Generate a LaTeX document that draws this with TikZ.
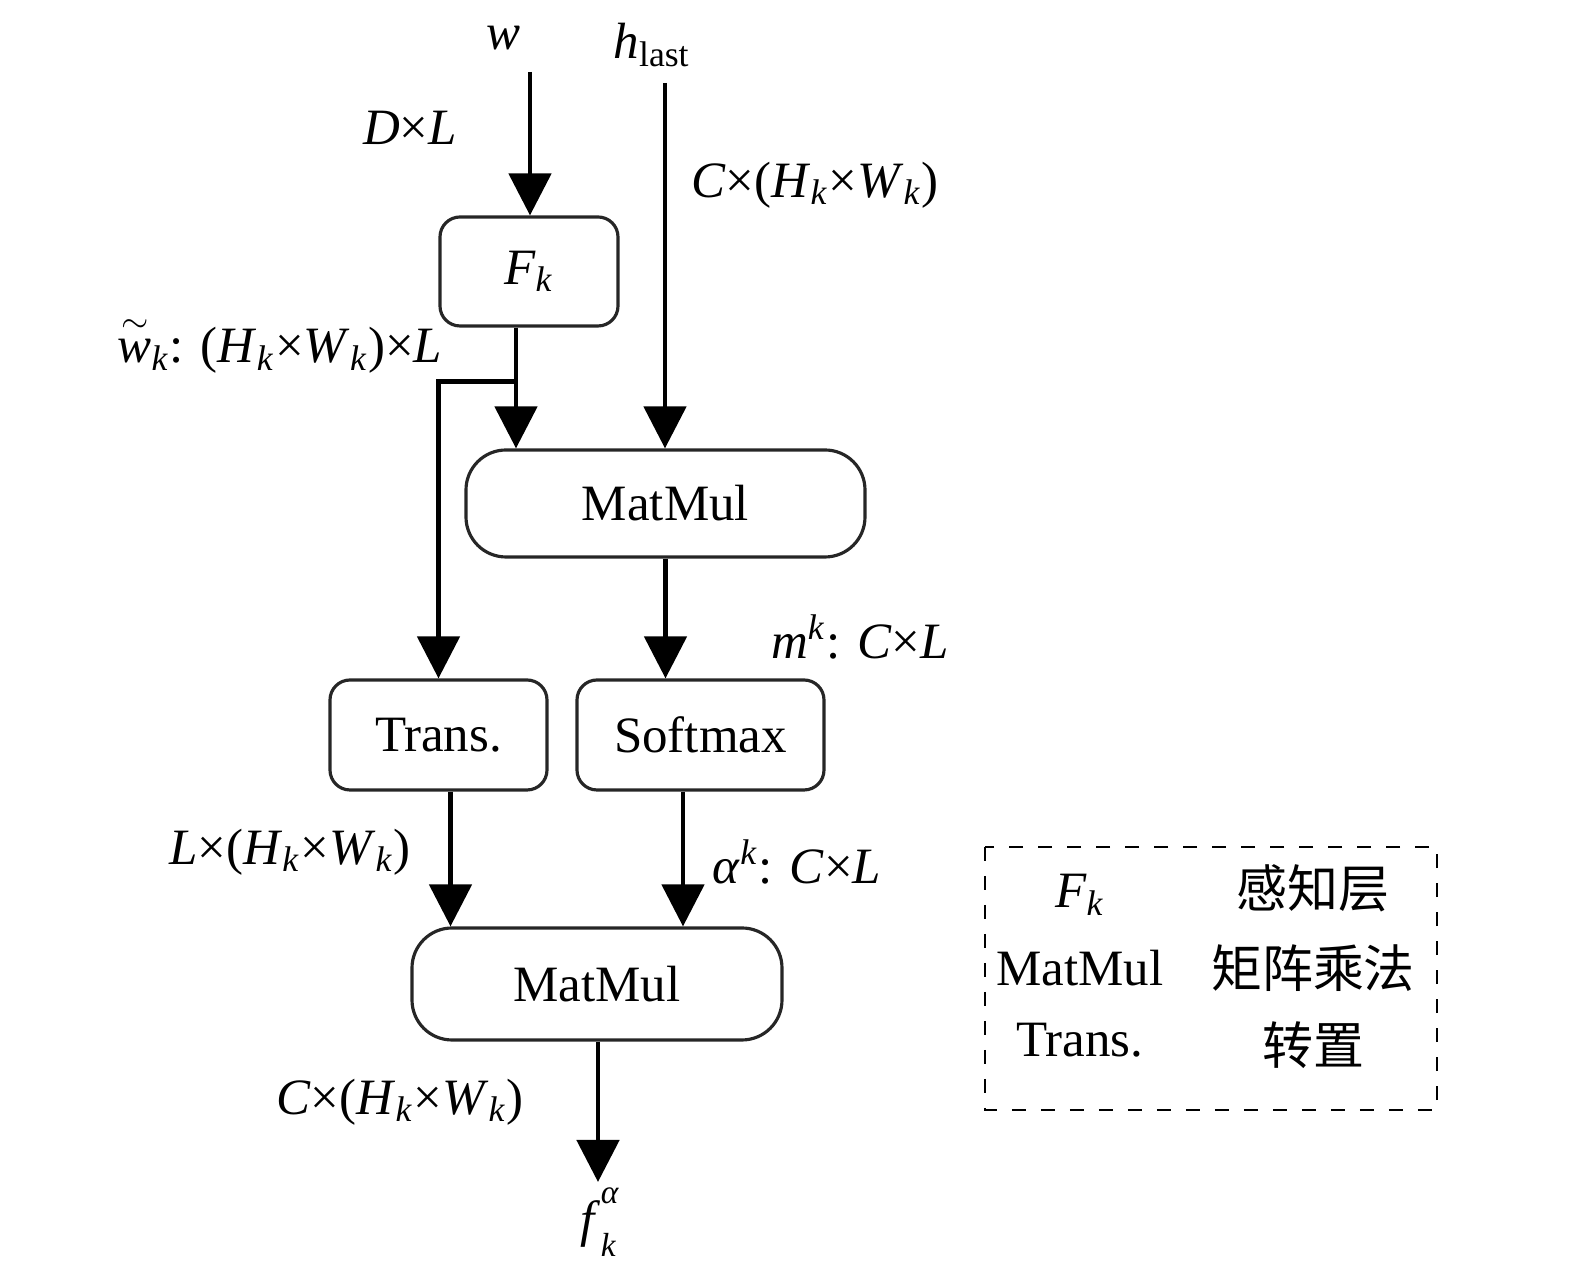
\documentclass[tikz,border=0pt]{standalone}
\usepackage{fontspec}
\setmainfont{Liberation Serif}
\newfontfamily\cjk{Noto Sans CJK SC}
\usetikzlibrary{arrows.meta,positioning,calc}

\begin{document}
\begin{tikzpicture}[>={Triangle[width=0.42cm,length=0.42cm]},font=\fontsize{14.5}{17}\selectfont]
  \tikzstyle{box}=[draw=black!85,line width=0.9pt,align=center,inner sep=0pt,minimum height=1.1cm]
  \tikzstyle{flow}=[line width=1.4pt,->]
  \tikzstyle{lbl}=[inner sep=0pt]
  \useasboundingbox (0,0) rectangle (15.75,-12.8);
  % blocks
  \node[box,rounded corners=0.2cm,minimum width=1.78cm,minimum height=1.09cm] (fk) at (5.29,-2.715) {\textit{F}\textsubscript{\textit{k}}};
  \node[box,rounded corners=0.4cm,minimum width=3.99cm,minimum height=1.07cm] (mm1) at (6.655,-5.035) {MatMul};
  \node[box,rounded corners=0.2cm,minimum width=2.17cm] (trans) at (4.385,-7.35) {Trans.};
  \node[box,rounded corners=0.2cm,minimum width=2.47cm] (sm) at (7.005,-7.35) {Softmax};
  \node[box,rounded corners=0.4cm,minimum width=3.70cm,minimum height=1.12cm] (mm2) at (5.97,-9.84) {MatMul};
  % inputs and output
  \node[lbl] (w) at (5.03,-0.38) {\textit{w}};
  \node[lbl] (hlast) at (6.52,-0.45) {\textit{h}\textsubscript{last}};
  \node[lbl] (fout) at (6.0,-12.22) {\textit{f}\rlap{\raisebox{-0.4em}{\fontsize{9.5}{10}\selectfont\textit{k}}}\raisebox{0.65em}{\fontsize{9.5}{10}\selectfont\textit{α}}};
  \coordinate (win) at (5.30,-0.72);
  \coordinate (hin) at (6.65,-0.83);
  \coordinate (fend) at (5.98,-11.82);
  \coordinate (split) at ($(fk.south)+(-0.13,-0.54)$);
  % sizes
  \node[lbl] (dl) at (4.10,-1.28) {\textit{D}×\textit{L}};
  \node[lbl] (chw) at (8.15,-1.85) {\textit{C}×(\textit{H}\textsubscript{\textit{k}}×\textit{W}\textsubscript{\textit{k}})};
  \node[lbl] (wk) at (2.80,-3.45) {$\stackrel{\sim}{\textit{w}}$\textsubscript{\textit{k}}: (\textit{H}\textsubscript{\textit{k}}×\textit{W}\textsubscript{\textit{k}})×\textit{L}};
  \node[lbl] (mk) at (8.60,-6.37) {\textit{m}\textsuperscript{\textit{k}}: \textit{C}×\textit{L}};
  \node[lbl] (lhw) at (2.90,-8.52) {\textit{L}×(\textit{H}\textsubscript{\textit{k}}×\textit{W}\textsubscript{\textit{k}})};
  \node[lbl] (ak) at (7.97,-8.62) {\textit{α}\textsuperscript{\textit{k}}: \textit{C}×\textit{L}};
  \node[lbl] (chw2) at (4.00,-11.02) {\textit{C}×(\textit{H}\textsubscript{\textit{k}}×\textit{W}\textsubscript{\textit{k}})};
  % connectors
  \draw[flow] (win) -- (win |- fk.north);
  \draw[flow] (hin) -- (hin |- mm1.north);
  \draw[flow] (fk.south -| split) -- (split |- mm1.north);
  \draw[flow] (split) -- (trans.north |- split) -- (trans.north);
  \draw[flow] (mm1.south) -- (mm1.south |- sm.north);
  \draw[flow] ($(trans.south)+(0.12,0)$) -- ($(trans.south |- mm2.north)+(0.12,0)$);
  \draw[flow] ($(sm.south)+(-0.175,0)$) -- ($(sm.south |- mm2.north)+(-0.175,0)$);
  \draw[flow] (mm2.south -| fend) -- (fend);
  % legend
  \draw[line width=0.8pt,dash pattern=on 0.14cm off 0.15cm] (9.85,-8.47) rectangle (14.37,-11.10);
  \node[lbl] (lf) at (10.80,-8.95) {\textit{F}\textsubscript{\textit{k}}};
  \node[lbl] (lm) at (10.80,-9.68) {MatMul};
  \node[lbl] (lt) at (10.80,-10.40) {Trans.};
  \node[lbl] (cf) at (13.13,-8.88) {\cjk 感知层};
  \node[lbl] (cm) at (13.13,-9.68) {\cjk 矩阵乘法};
  \node[lbl] (ct) at (13.13,-10.45) {\cjk 转置};
\end{tikzpicture}
\end{document}
